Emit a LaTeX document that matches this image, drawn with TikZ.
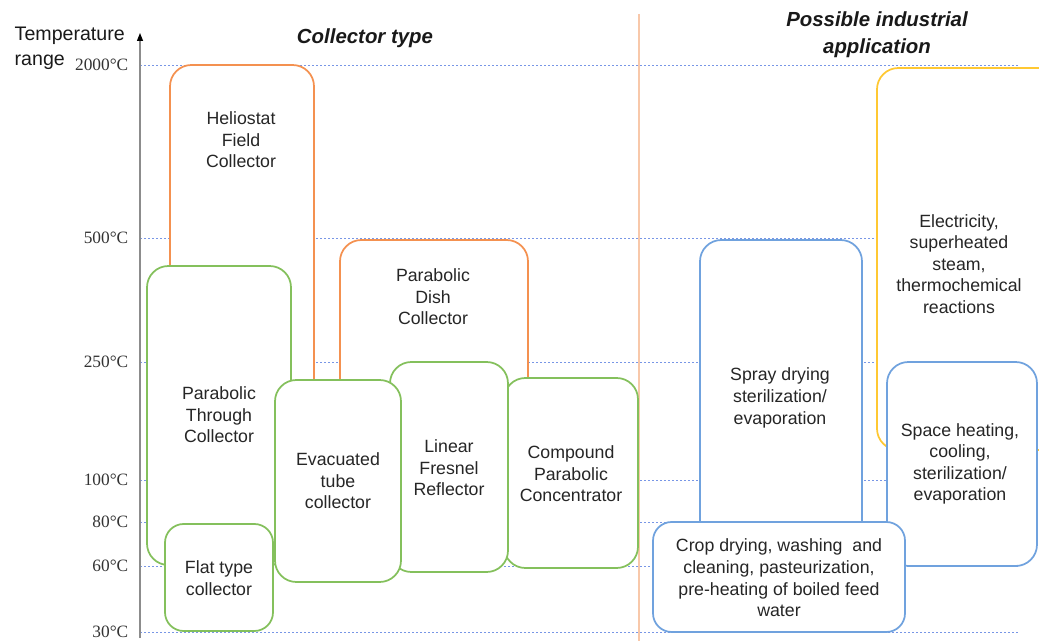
\documentclass[tikz,border=0pt]{standalone}
\usepackage{fontspec}
\setmainfont{Liberation Sans}
\newfontfamily\tempfont{Liberation Serif}
\usetikzlibrary{arrows.meta}
\definecolor{boxorange}{RGB}{244,145,80}
\definecolor{boxgreen}{RGB}{132,192,92}
\definecolor{boxblue}{RGB}{112,162,222}
\definecolor{boxyellow}{RGB}{255,200,50}
\definecolor{levelblue}{RGB}{120,150,230}
\definecolor{sepline}{RGB}{248,200,170}
\begin{document}
\begin{tikzpicture}[x=0.75pt,y=-0.75pt,
        box/.style={draw=#1,line width=1.3pt,fill=white,rounded corners=16pt},
        txt/.style={align=center,text=black!85,font=\fontsize{13.3}{16.2}\selectfont},
        temp/.style={anchor=east,text=black!80,font=\tempfont\fontsize{13}{14}\selectfont},
        level/.style={draw=levelblue,line width=0.6pt,dash pattern=on 1.5pt off 1.5pt},
        heading/.style={align=center,text=black!90,font=\bfseries\itshape\fontsize{15.3}{20}\selectfont}]
    \useasboundingbox (0,0) rectangle (1039,641);

    \foreach \t/\y in {2000/65,500/238,250/362,100/480,80/522,60/566,30/632}{
        \draw[level] (140,\y) -- (1018,\y);
        \node[temp] (t\t) at (133,\y) {\t°C};
    }
    \draw[sepline,line width=1pt] (639,14) -- (639,641);
    \draw[black!45,line width=1pt,-{Triangle[black,length=6pt,width=4.5pt]}] (140,638) -- (140,33);

    \node[anchor=north west,align=left,text=black!90,font=\fontsize{14.7}{18.8}\selectfont] (trange) at (10,22) {Temperature\\range};
    \node[heading] (ctype) at (365,38) {Collector type};
    \node[heading] (iapp) at (877,35) {Possible industrial\\application};

    \draw[box=boxorange] (170,65) rectangle (314,440);
    \node[txt] (helio) at (241,140) {Heliostat\\Field\\Collector};
    \draw[box=boxorange] (340,240) rectangle (528,440);
    \node[txt] (dish) at (433,297) {Parabolic\\Dish\\Collector};
    \draw[box=boxgreen] (147,266) rectangle (291,565);
    \node[txt] (trough) at (219,415) {Parabolic\\Through\\Collector};
    \draw[box=boxgreen,rounded corners=14pt] (165,524) rectangle (273,631);
    \node[txt] (flat) at (219,578) {Flat type\\collector};
    \draw[box=boxgreen] (504,378) rectangle (638,568);
    \node[txt] (cpc) at (571,474) {Compound\\Parabolic\\Concentrator};
    \draw[box=boxgreen] (390,362) rectangle (508,572);
    \node[txt] (fresnel) at (449,468) {Linear\\Fresnel\\Reflector};
    \draw[box=boxgreen] (275,380) rectangle (401,582);
    \node[txt] (evac) at (338,481) {Evacuated\\tube\\collector};

    \draw[box=boxblue] (700,240) rectangle (862,560);
    \node[txt] (spray) at (780,398) {Spray drying\\sterilization/\\evaporation};
    \draw[box=boxyellow] (877,68) rectangle (1062,450);
    \node[txt] (power) at (959,264) {Electricity,\\superheated\\steam,\\thermochemical\\reactions};
    \draw[box=boxblue] (887,362) rectangle (1037,566);
    \node[txt] (space) at (960,464) {Space heating,\\cooling,\\sterilization/\\evaporation};
    \draw[box=boxblue,rounded corners=14pt] (653,522) rectangle (905,632);
    \node[txt] (crop) at (779,578) {Crop drying, washing\ \ and\\cleaning, pasteurization,\\pre-heating of boiled feed\\water};
\end{tikzpicture}
\end{document}
